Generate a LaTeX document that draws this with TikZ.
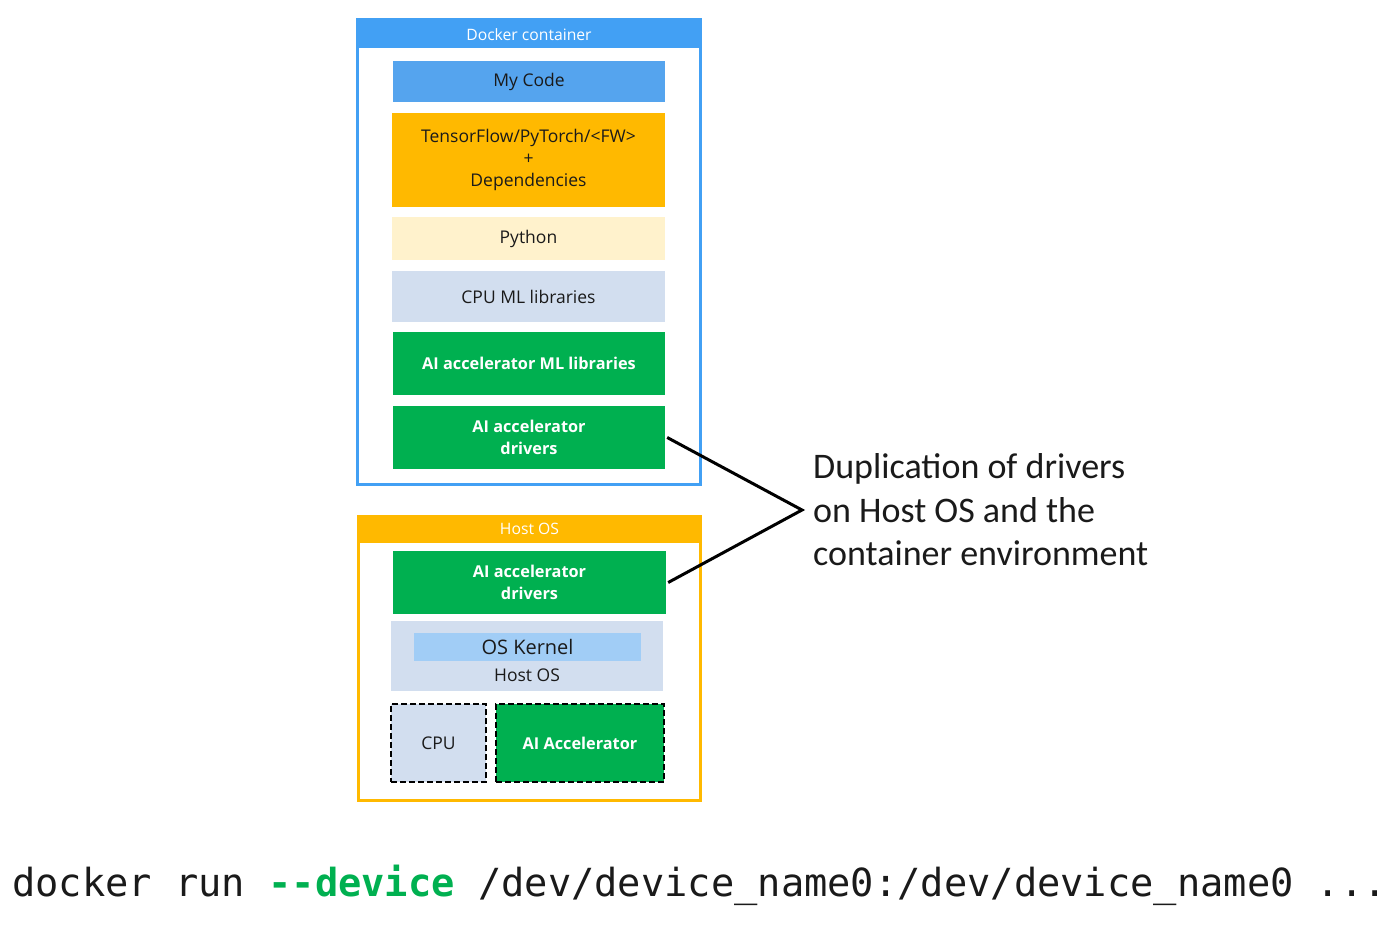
\documentclass[tikz,border=0pt]{standalone}
\usepackage{fontspec}
\setmainfont{Open Sans}
\setmonofont{DejaVu Sans Mono}
\newfontfamily\calloutfont{Carlito}
\definecolor{dockblue}{HTML}{42A0F4}
\definecolor{codeblue}{HTML}{55A4EE}
\definecolor{fworange}{HTML}{FFB900}
\definecolor{pycream}{HTML}{FFF2CC}
\definecolor{libblue}{HTML}{D2DEEF}
\definecolor{accgreen}{HTML}{00B050}
\definecolor{inkblack}{HTML}{1A1A1A}
\tikzset{
  layer/.style = {inner sep=0pt, align=center, text=inkblack,
                  font=\fontsize{17.5}{22}\selectfont},
  greenlayer/.style = {layer, fill=accgreen, text=white,
                  font=\fontsize{16.3}{22}\selectfont\bfseries},
  frame/.style = {line width=3pt, inner sep=0pt},
  header/.style = {inner sep=0pt, text=white, font=\fontsize{15.7}{18}\selectfont},
  hwbox/.style = {layer, draw=black, dash pattern=on 6pt off 3pt, line width=1.5pt},
}
\begin{document}
\begin{tikzpicture}[x=1pt, y=-1pt]
    \useasboundingbox (0,0) rectangle (1400,928);

    % docker container
    \node[frame, draw=dockblue, minimum width=343pt, minimum height=465pt] (dock) at (529,252) {};
    \node[header, fill=dockblue, minimum width=346pt, minimum height=30pt,
          text height=15pt, text depth=0pt] (dockhead) at (529,33) {Docker container};

    \node[layer, fill=codeblue, minimum width=272pt, minimum height=41pt] (mycode) at (529,81.5) {My Code};
    \node[layer, fill=fworange, minimum width=273pt, minimum height=94pt] (fw) at (528.5,160)
        {TensorFlow/PyTorch/<FW>\\+\\Dependencies};
    \node[layer, fill=pycream, minimum width=273pt, minimum height=42pt] (python) at (528.5,238.5) {Python};
    \node[layer, fill=libblue, minimum width=273pt, minimum height=51pt] (cpuml) at (528.5,296.5) {CPU ML libraries};
    \node[greenlayer, minimum width=272pt, minimum height=63pt] (accml) at (529,363.5) {AI accelerator ML libraries};
    \node[greenlayer, minimum width=272pt, minimum height=63pt] (cdrv) at (529,437.5) {AI accelerator\\drivers};

    % host os
    \node[frame, draw=fworange, minimum width=342pt, minimum height=284pt] (host) at (529.5,658.5) {};
    \node[header, fill=fworange, minimum width=345pt, minimum height=28pt] (hosthead) at (529.5,529) {Host OS};

    \node[greenlayer, minimum width=273pt, minimum height=63pt] (hdrv) at (529.5,582.5) {AI accelerator\\drivers};
    \node[layer, fill=libblue, minimum width=272pt, minimum height=70pt] (kernel) at (527,656) {};
    \node[layer, fill=codeblue!55, minimum width=227pt, minimum height=28pt,
          font=\fontsize{20}{22}\selectfont] (kernelin) at (527.5,647) {OS Kernel};
    \node[layer, anchor=north] (hostlbl) at (527,669) {Host OS};

    \node[hwbox, fill=libblue, minimum width=95pt, minimum height=78pt] (cpu) at (438.5,743) {CPU};
    \node[hwbox, fill=accgreen, text=white, font=\fontsize{16.3}{22}\selectfont\bfseries,
          minimum width=168pt, minimum height=78pt] (accel) at (580,743) {AI Accelerator};

    % duplication callout
    \coordinate (tip) at (802,510);
    \draw[line width=3pt, line join=miter] ([xshift=2pt]cdrv.east) -- (tip) -- ([xshift=2pt]hdrv.east);
    \node[anchor=west, inner sep=0pt, align=left, text=inkblack,
          font=\calloutfont\fontsize{36}{43.5}\selectfont] (dup) at (813,510)
        {Duplication of drivers\\on Host OS and the\\container environment};

    % command line
    \node[anchor=west, inner sep=0pt, text=inkblack,
          font=\ttfamily\fontsize{38.7}{40}\selectfont] (cmd) at (12,885)
        {docker run \textcolor{accgreen}{\bfseries --device} /dev/device\_name0:/dev/device\_name0 ...};

\end{tikzpicture}
\end{document}
